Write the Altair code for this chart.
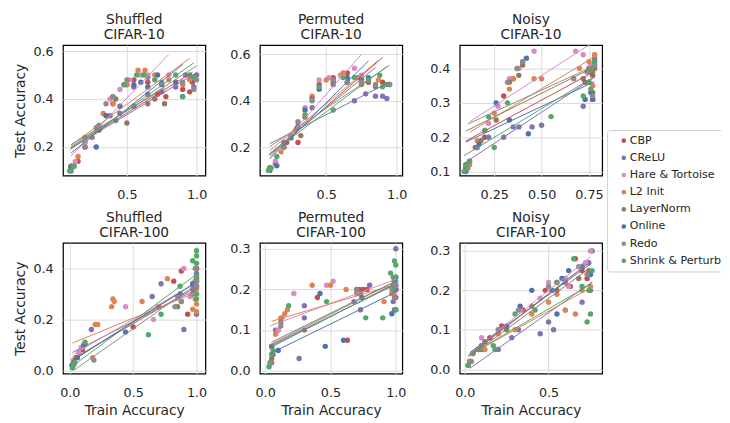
import altair as alt
import pandas as pd

METHODS = ["CBP", "CReLU", "Hare & Tortoise", "L2 Init", "LayerNorm", "Online", "Redo", "Shrink & Perturb"]
COLORS = ["#C44E52", "#8172B3", "#DA8BC3", "#DD8452", "#937860", "#4C72B0", "#8C8C8C", "#55A868"]

# (train accuracy, test accuracy) points
shuffled_c10 = {
    "CBP": [(0.10, 0.11), (0.15, 0.14), (0.20, 0.20), (0.30, 0.27), (0.40, 0.38), (0.50, 0.46), (0.55, 0.48), (0.65, 0.47), (0.72, 0.42), (0.78, 0.41), (0.90, 0.44), (0.97, 0.47), (0.95, 0.43)],
    "CReLU": [(0.10, 0.12), (0.20, 0.22), (0.30, 0.29), (0.38, 0.33), (0.45, 0.34), (0.55, 0.37), (0.65, 0.42), (0.75, 0.43), (0.85, 0.45), (0.92, 0.50), (0.97, 0.49), (1.00, 0.50), (0.98, 0.45)],
    "Hare & Tortoise": [(0.10, 0.10), (0.13, 0.14), (0.20, 0.22), (0.30, 0.28), (0.38, 0.40), (0.45, 0.44), (0.52, 0.48), (0.60, 0.50), (0.65, 0.50), (0.70, 0.48), (0.80, 0.50)],
    "L2 Init": [(0.10, 0.12), (0.15, 0.16), (0.25, 0.24), (0.33, 0.34), (0.40, 0.38), (0.50, 0.46), (0.58, 0.52), (0.63, 0.52), (0.70, 0.50), (0.80, 0.48), (0.90, 0.46), (0.95, 0.48)],
    "LayerNorm": [(0.10, 0.12), (0.20, 0.24), (0.30, 0.28), (0.40, 0.41), (0.42, 0.40), (0.50, 0.30), (0.55, 0.45), (0.65, 0.38), (0.70, 0.40), (0.77, 0.38)],
    "Online": [(0.10, 0.11), (0.12, 0.12), (0.28, 0.20), (0.35, 0.33), (0.45, 0.37), (0.48, 0.46), (0.55, 0.46), (0.60, 0.47), (0.65, 0.45), (0.72, 0.50), (0.75, 0.46), (0.90, 0.41), (0.85, 0.47)],
    "Redo": [(0.10, 0.10), (0.12, 0.12), (0.20, 0.20), (0.25, 0.24), (0.30, 0.28), (0.35, 0.38), (0.40, 0.41), (0.50, 0.48), (0.65, 0.49), (0.75, 0.47), (0.90, 0.47), (1.00, 0.48), (0.98, 0.44)],
    "Shrink & Perturb": [(0.09, 0.10), (0.12, 0.12), (0.20, 0.24), (0.28, 0.28), (0.42, 0.31), (0.48, 0.46), (0.57, 0.50), (0.62, 0.50), (0.70, 0.48), (0.85, 0.50), (0.90, 0.41), (0.95, 0.50), (0.98, 0.49)],
}

permuted_c10 = {
    "CBP": [(0.10, 0.11), (0.14, 0.13), (0.22, 0.22), (0.30, 0.22), (0.35, 0.33), (0.45, 0.47), (0.55, 0.50), (0.65, 0.52), (0.72, 0.50), (0.80, 0.48), (0.90, 0.48)],
    "CReLU": [(0.10, 0.11), (0.20, 0.22), (0.30, 0.29), (0.40, 0.37), (0.55, 0.47), (0.65, 0.48), (0.70, 0.40), (0.78, 0.43), (0.85, 0.42), (0.90, 0.42), (0.93, 0.41), (0.95, 0.47)],
    "Hare & Tortoise": [(0.10, 0.10), (0.14, 0.14), (0.25, 0.25), (0.35, 0.37), (0.45, 0.49), (0.52, 0.50), (0.60, 0.51), (0.70, 0.54), (0.75, 0.51)],
    "L2 Init": [(0.10, 0.11), (0.18, 0.18), (0.28, 0.27), (0.40, 0.42), (0.50, 0.49), (0.62, 0.52), (0.72, 0.50), (0.80, 0.49), (0.87, 0.49)],
    "LayerNorm": [(0.10, 0.11), (0.20, 0.20), (0.29, 0.28), (0.32, 0.25), (0.40, 0.41), (0.55, 0.48), (0.65, 0.48), (0.75, 0.47), (0.85, 0.46)],
    "Online": [(0.10, 0.10), (0.15, 0.12), (0.25, 0.24), (0.35, 0.36), (0.45, 0.45), (0.55, 0.49), (0.65, 0.50), (0.75, 0.49), (0.80, 0.50)],
    "Redo": [(0.10, 0.11), (0.20, 0.20), (0.30, 0.31), (0.40, 0.40), (0.55, 0.49), (0.65, 0.48), (0.75, 0.48), (0.85, 0.47), (0.95, 0.47)],
    "Shrink & Perturb": [(0.09, 0.10), (0.11, 0.11), (0.15, 0.16), (0.25, 0.25), (0.35, 0.34), (0.45, 0.46), (0.55, 0.36), (0.62, 0.50), (0.70, 0.50), (0.80, 0.49), (0.88, 0.51), (0.93, 0.47), (0.90, 0.46)],
}

noisy_c10 = {
    "CBP": [(0.10, 0.12), (0.15, 0.17), (0.20, 0.20), (0.30, 0.32), (0.35, 0.37), (0.73, 0.36), (0.75, 0.40), (0.77, 0.31), (0.78, 0.42), (0.77, 0.38)],
    "CReLU": [(0.10, 0.11), (0.16, 0.17), (0.22, 0.20), (0.30, 0.20), (0.35, 0.23), (0.38, 0.23), (0.45, 0.23), (0.50, 0.235), (0.72, 0.29), (0.75, 0.36), (0.77, 0.40), (0.78, 0.43)],
    "Hare & Tortoise": [(0.12, 0.13), (0.22, 0.24), (0.27, 0.29), (0.33, 0.37), (0.38, 0.40), (0.40, 0.42), (0.46, 0.45), (0.68, 0.45), (0.72, 0.44), (0.76, 0.41), (0.78, 0.44)],
    "L2 Init": [(0.12, 0.12), (0.16, 0.19), (0.25, 0.27), (0.33, 0.34), (0.35, 0.37), (0.46, 0.37), (0.50, 0.37), (0.70, 0.40), (0.75, 0.42), (0.78, 0.44), (0.77, 0.35)],
    "LayerNorm": [(0.10, 0.11), (0.18, 0.19), (0.26, 0.25), (0.33, 0.36), (0.38, 0.38), (0.40, 0.41), (0.72, 0.37), (0.76, 0.39), (0.78, 0.40), (0.77, 0.33)],
    "Online": [(0.10, 0.10), (0.17, 0.18), (0.26, 0.30), (0.33, 0.25), (0.42, 0.43), (0.43, 0.21), (0.73, 0.31), (0.76, 0.33), (0.77, 0.31), (0.78, 0.41)],
    "Redo": [(0.11, 0.11), (0.20, 0.22), (0.32, 0.36), (0.40, 0.42), (0.37, 0.40), (0.67, 0.37), (0.74, 0.39), (0.77, 0.32), (0.78, 0.41), (0.76, 0.40)],
    "Shrink & Perturb": [(0.09, 0.10), (0.10, 0.12), (0.12, 0.13), (0.20, 0.22), (0.22, 0.26), (0.25, 0.17), (0.32, 0.30), (0.55, 0.26), (0.72, 0.32), (0.75, 0.36), (0.77, 0.39), (0.78, 0.42), (0.76, 0.34)],
}

shuffled_c100 = {
    "CBP": [(0.02, 0.02), (0.05, 0.05), (0.10, 0.08), (0.50, 0.17), (0.82, 0.35), (0.88, 0.39), (0.93, 0.22), (0.97, 0.30), (1.00, 0.40), (1.00, 0.35), (0.99, 0.31)],
    "CReLU": [(0.02, 0.02), (0.06, 0.05), (0.17, 0.16), (0.65, 0.29), (0.72, 0.34), (0.90, 0.16), (0.97, 0.32), (1.00, 0.22), (1.00, 0.38), (0.99, 0.35)],
    "Hare & Tortoise": [(0.03, 0.03), (0.07, 0.07), (0.09, 0.09), (0.44, 0.25), (0.66, 0.20), (0.90, 0.40), (0.95, 0.29), (0.97, 0.33), (1.00, 0.36), (1.00, 0.30)],
    "L2 Init": [(0.02, 0.02), (0.03, 0.04), (0.05, 0.05), (0.18, 0.05), (0.20, 0.18), (0.22, 0.18), (0.33, 0.25), (0.34, 0.28), (0.35, 0.27), (0.57, 0.27), (0.77, 0.36), (0.97, 0.24), (0.99, 0.28), (1.00, 0.26), (1.00, 0.32), (1.00, 0.23)],
    "LayerNorm": [(0.03, 0.03), (0.05, 0.05), (0.12, 0.10), (0.70, 0.25), (0.85, 0.25), (0.88, 0.27), (0.98, 0.33), (1.00, 0.36)],
    "Online": [(0.02, 0.02), (0.06, 0.05), (0.11, 0.10), (0.44, 0.15), (0.87, 0.30), (0.97, 0.34), (1.00, 0.37), (1.00, 0.33)],
    "Redo": [(0.03, 0.02), (0.19, 0.04), (0.83, 0.25), (0.85, 0.29), (0.88, 0.27), (0.97, 0.30), (1.00, 0.35), (1.00, 0.33), (0.99, 0.40)],
    "Shrink & Perturb": [(0.02, 0.01), (0.04, 0.03), (0.12, 0.11), (0.62, 0.14), (0.72, 0.22), (0.87, 0.33), (0.97, 0.43), (1.00, 0.47), (1.00, 0.45), (1.00, 0.42), (1.00, 0.37), (1.00, 0.30), (1.00, 0.28)],
}

permuted_c100 = {
    "CBP": [(0.04, 0.02), (0.06, 0.04), (0.10, 0.10), (0.40, 0.18), (0.63, 0.075), (0.72, 0.20), (0.75, 0.20), (0.78, 0.20), (0.97, 0.20), (1.00, 0.18), (0.99, 0.22)],
    "CReLU": [(0.05, 0.02), (0.08, 0.10), (0.26, 0.03), (0.30, 0.16), (0.30, 0.13), (0.68, 0.17), (0.73, 0.15), (0.80, 0.21), (1.00, 0.30), (0.99, 0.15), (1.00, 0.20), (0.98, 0.17)],
    "Hare & Tortoise": [(0.04, 0.02), (0.10, 0.10), (0.13, 0.13), (0.22, 0.19), (0.47, 0.21), (0.52, 0.22), (0.97, 0.20), (1.00, 0.22), (0.99, 0.19)],
    "L2 Init": [(0.05, 0.06), (0.08, 0.09), (0.12, 0.13), (0.15, 0.14), (0.17, 0.15), (0.36, 0.21), (0.50, 0.21), (0.62, 0.20), (0.70, 0.19), (0.91, 0.17), (0.97, 0.19), (1.00, 0.20)],
    "LayerNorm": [(0.05, 0.03), (0.12, 0.12), (0.30, 0.10), (0.70, 0.20), (0.73, 0.19), (1.00, 0.20), (0.98, 0.21)],
    "Online": [(0.04, 0.02), (0.05, 0.06), (0.10, 0.05), (0.42, 0.19), (0.46, 0.06), (0.60, 0.075), (0.74, 0.18), (0.97, 0.14), (1.00, 0.15), (1.00, 0.21), (0.99, 0.20), (1.00, 0.23), (0.99, 0.22)],
    "Redo": [(0.04, 0.02), (0.12, 0.11), (0.70, 0.20), (0.71, 0.19), (0.98, 0.23), (1.00, 0.21), (0.99, 0.18)],
    "Shrink & Perturb": [(0.03, 0.01), (0.05, 0.04), (0.06, 0.05), (0.18, 0.16), (0.47, 0.17), (0.77, 0.13), (0.90, 0.13), (0.96, 0.24), (0.99, 0.27), (1.00, 0.26), (1.00, 0.23), (0.98, 0.20), (1.00, 0.15)],
}

noisy_c100 = {
    "CBP": [(0.02, 0.01), (0.08, 0.05), (0.15, 0.08), (0.22, 0.11), (0.35, 0.15), (0.48, 0.20), (0.55, 0.22), (0.63, 0.21), (0.70, 0.25), (0.73, 0.23), (0.66, 0.28)],
    "CReLU": [(0.03, 0.02), (0.10, 0.05), (0.20, 0.05), (0.28, 0.08), (0.32, 0.10), (0.45, 0.09), (0.50, 0.12), (0.53, 0.10), (0.60, 0.15), (0.70, 0.17), (0.74, 0.27), (0.76, 0.30), (0.75, 0.20)],
    "Hare & Tortoise": [(0.03, 0.02), (0.10, 0.08), (0.20, 0.10), (0.33, 0.15), (0.45, 0.18), (0.50, 0.22), (0.60, 0.23), (0.72, 0.27), (0.75, 0.30), (0.62, 0.21)],
    "L2 Init": [(0.04, 0.02), (0.12, 0.05), (0.20, 0.09), (0.30, 0.10), (0.40, 0.14), (0.50, 0.17), (0.55, 0.19), (0.60, 0.15), (0.66, 0.14), (0.70, 0.20), (0.75, 0.21)],
    "LayerNorm": [(0.03, 0.02), (0.12, 0.07), (0.25, 0.10), (0.40, 0.16), (0.55, 0.20), (0.68, 0.23), (0.74, 0.25)],
    "Online": [(0.03, 0.02), (0.10, 0.06), (0.25, 0.11), (0.33, 0.16), (0.40, 0.20), (0.52, 0.20), (0.55, 0.14), (0.58, 0.23), (0.62, 0.25), (0.70, 0.26), (0.75, 0.24)],
    "Redo": [(0.03, 0.02), (0.10, 0.06), (0.20, 0.10), (0.32, 0.15), (0.50, 0.21), (0.60, 0.22), (0.68, 0.26), (0.73, 0.24)],
    "Shrink & Perturb": [(0.02, 0.01), (0.05, 0.04), (0.08, 0.05), (0.17, 0.06), (0.18, 0.05), (0.30, 0.14), (0.42, 0.15), (0.55, 0.22), (0.65, 0.28), (0.70, 0.21), (0.73, 0.12), (0.75, 0.14), (0.76, 0.25), (0.74, 0.20)],
}

PANEL_TITLES = [["Shuffled", "CIFAR-10"], ["Permuted", "CIFAR-10"], ["Noisy", "CIFAR-10"],
                ["Shuffled", "CIFAR-100"], ["Permuted", "CIFAR-100"], ["Noisy", "CIFAR-100"]]
PANEL_DATA = [shuffled_c10, permuted_c10, noisy_c10, shuffled_c100, permuted_c100, noisy_c100]
X_TICKS = [[0.5, 1.0], [0.5, 1.0], [0.25, 0.5, 0.75], [0.0, 0.5, 1.0], [0.0, 0.5, 1.0], [0.0, 0.5]]
Y_TICKS = [[0.2, 0.4, 0.6], [0.2, 0.4, 0.6], [0.1, 0.2, 0.3, 0.4], [0.0, 0.2, 0.4], [0.0, 0.1, 0.2, 0.3], [0.0, 0.1, 0.2, 0.3]]
X_FMT = [".1f", ".1f", ".2f", ".1f", ".1f", ".1f"]
X_DOM = [[0.042, 1.063], [0.03, 1.04], [0.068, 0.82], [-0.054, 1.07], [-0.04, 1.05], [-0.03, 0.82]]
Y_DOM = [[0.08, 0.625], [0.077, 0.64], [0.088, 0.468], [-0.013, 0.5], [-0.007, 0.314], [-0.011, 0.32]]

PW, PH = 145, 133
COLOR_SCALE = alt.Scale(domain=METHODS, range=COLORS)


def make_panel(i):
    data = PANEL_DATA[i]
    rows = [{"method": m, "train": x, "test": y} for m in METHODS for (x, y) in data[m]]
    df = pd.DataFrame(rows)
    color = alt.Color("method:N", scale=COLOR_SCALE, legend=None)
    x = alt.X("train:Q", scale=alt.Scale(domain=X_DOM[i], nice=False, zero=False),
              axis=alt.Axis(values=X_TICKS[i], format=X_FMT[i]),
              title="Train Accuracy" if i >= 3 else None)
    y = alt.Y("test:Q", scale=alt.Scale(domain=Y_DOM[i], nice=False, zero=False),
              axis=alt.Axis(values=Y_TICKS[i], format=".1f"),
              title="Test Accuracy" if i % 3 == 0 else None)
    base = alt.Chart(df)
    pts = base.mark_circle(size=30, opacity=1).encode(x=x, y=y, color=color)
    lines = base.transform_regression("train", "test", groupby=["method"]).mark_line(
        strokeWidth=1, clip=True).encode(x=x, y=y, color=color)
    return alt.layer(pts, lines).properties(
        width=PW, height=PH, title=alt.TitleParams(text=PANEL_TITLES[i]))


grid = alt.concat(*[make_panel(i) for i in range(6)], columns=3,
                  spacing={"row": 7.5, "column": 20.5})

# legend drawn as its own small view; its frame runs past the right edge like the reference
legend_df = pd.DataFrame({"method": METHODS})
box_df = pd.DataFrame({"k": [0]})
legend_y = alt.Y("method:N", scale=alt.Scale(type="point", domain=METHODS, range=[97.3, 219.7], padding=0),
                 axis=None)
legend_box = alt.Chart(box_df).mark_rect(
    fill="white", stroke="#cccccc", strokeWidth=1, cornerRadius=3, clip=True
).encode(x=alt.value(0.5), x2=alt.value(160), y=alt.value(87), y2=alt.value(231))
legend_dots = alt.Chart(legend_df).mark_circle(size=22, opacity=1).encode(
    x=alt.value(17), y=legend_y, color=alt.Color("method:N", scale=COLOR_SCALE, legend=None))
legend_text = alt.Chart(legend_df).mark_text(
    align="left", baseline="middle", fontSize=11.3, font="DejaVu Sans", color="#262626"
).encode(x=alt.value(23), y=legend_y, text="method:N")
legend_view = alt.layer(legend_box, legend_dots, legend_text).properties(
    width=116, height=240, view=alt.ViewBackground(stroke="transparent"))

chart = alt.hconcat(grid, legend_view, spacing=2).properties(
    padding={"left": 4, "top": 0, "right": 0, "bottom": 0}
).configure_view(
    stroke="black", strokeWidth=1.25
).configure_axis(
    grid=True, gridColor="#dadada", gridWidth=1, domain=False, ticks=False,
    labelFontSize=13, titleFontSize=14, labelColor="#262626", titleColor="#262626",
    labelFont="DejaVu Sans", titleFont="DejaVu Sans", titleFontWeight="normal"
).configure_axisX(titlePadding=4.5, labelPadding=13).configure_axisY(
    titlePadding=6, labelPadding=10
).configure_title(
    fontSize=14, font="DejaVu Sans", fontWeight="normal", color="#262626",
    offset=3, lineHeight=15.5
)

chart.save("out.html", embed_options={"renderer": "svg", "actions": False})
